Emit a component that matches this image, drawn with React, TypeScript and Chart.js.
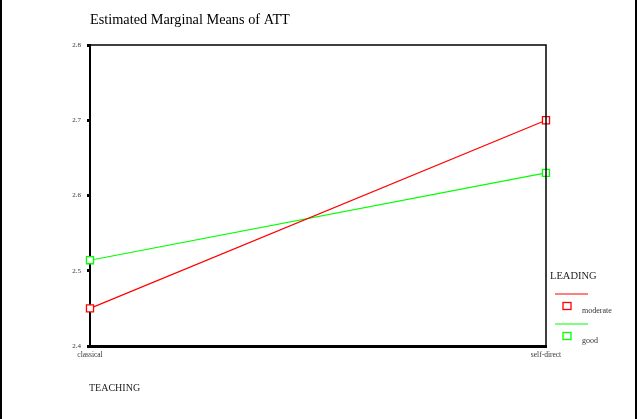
import React, { useEffect, useRef } from "react";
import { Chart, registerables } from "chart.js";

Chart.register(...registerables);

const categories = ["classical", "self-direct"];
const moderateValues = [2.45, 2.7];
const goodValues = [2.514, 2.63];
const yTicks = [2.4, 2.5, 2.6, 2.7, 2.8];
const chartTitle = "Estimated Marginal Means of ATT";
const xAxisTitle = "TEACHING";
const legendTitle = "LEADING";
const seriesNames = ["moderate", "good"];
const seriesColors = ["#ff0000", "#00ff00"];

const FONT = "'Liberation Serif', 'Times New Roman', serif";

export default function App() {
  const ref = useRef<HTMLCanvasElement | null>(null);

  useEffect(() => {
    document.body.style.margin = "0";
    const canvas = ref.current;
    if (!canvas) return;

    const decor = {
      id: "decor",
      afterDraw(chart: any) {
        const ctx = chart.ctx;
        const a = chart.chartArea;
        ctx.save();
        // frame top and right
        ctx.strokeStyle = "#000";
        ctx.lineWidth = 1.5;
        ctx.beginPath();
        ctx.moveTo(a.left, a.top);
        ctx.lineTo(a.right, a.top);
        ctx.lineTo(a.right, a.bottom);
        ctx.stroke();
        // outer page side borders
        ctx.lineWidth = 2;
        ctx.beginPath();
        ctx.moveTo(1, 0);
        ctx.lineTo(1, 419);
        ctx.moveTo(636, 0);
        ctx.lineTo(636, 419);
        ctx.stroke();
        // title
        ctx.fillStyle = "#000";
        ctx.textBaseline = "middle";
        ctx.textAlign = "left";
        ctx.font = `14.3px ${FONT}`;
        ctx.fillText(chartTitle, a.left, 20.5);
        // x axis title
        ctx.font = `10px ${FONT}`;
        ctx.fillStyle = "#222";
        ctx.fillText(xAxisTitle, a.left - 1, 388);
        // legend
        ctx.font = `10.5px ${FONT}`;
        ctx.fillText(legendTitle, a.right + 4, 276);
        seriesNames.forEach((name, i) => {
          const y0 = 294 + i * 30;
          ctx.strokeStyle = seriesColors[i];
          ctx.lineWidth = 1.2;
          ctx.beginPath();
          ctx.moveTo(555, y0);
          ctx.lineTo(588, y0);
          ctx.stroke();
          ctx.lineWidth = 1.3;
          ctx.strokeRect(563, y0 + 8.5, 8, 7);
          ctx.fillStyle = "#333";
          ctx.font = `8px ${FONT}`;
          ctx.fillText(name, 582, y0 + 17);
        });
        ctx.restore();
      },
    };

    const chart = new Chart(canvas, {
      type: "line",
      data: {
        labels: categories,
        datasets: [
          {
            label: seriesNames[0],
            data: moderateValues,
            borderColor: seriesColors[0],
            backgroundColor: "#ffffff",
            borderWidth: 1.2,
            pointStyle: "rect",
            pointRadius: 5,
            pointBorderWidth: 1.3,
            pointBorderColor: seriesColors[0],
            pointBackgroundColor: "#ffffff",
          },
          {
            label: seriesNames[1],
            data: goodValues,
            borderColor: seriesColors[1],
            backgroundColor: "#ffffff",
            borderWidth: 1.2,
            pointStyle: "rect",
            pointRadius: 5,
            pointBorderWidth: 1.3,
            pointBorderColor: seriesColors[1],
            pointBackgroundColor: "#ffffff",
          },
        ],
      },
      options: {
        animation: false,
        responsive: false,
        maintainAspectRatio: false,
        layout: { padding: { left: 0, right: 94, top: 45, bottom: 0 } },
        plugins: {
          legend: { display: false },
          title: { display: false },
          tooltip: { enabled: false },
        },
        scales: {
          x: {
            type: "category",
            offset: false,
            grid: { display: false, drawTicks: false },
            border: { display: true, color: "#000", width: 3 },
            ticks: {
              color: "#333",
              font: { family: FONT, size: 7.5 },
              padding: 5,
              maxRotation: 0,
              autoSkip: false,
            },
            afterFit(scale: any) {
              scale.height = 73;
            },
          },
          y: {
            min: 2.4,
            max: 2.8,
            afterBuildTicks(scale: any) {
              scale.ticks = yTicks.map((v) => ({ value: v }));
            },
            grid: {
              drawOnChartArea: false,
              drawTicks: true,
              tickLength: 3,
              tickWidth: 3,
              tickColor: "#000",
              offset: false,
            },
            border: { display: true, color: "#000", width: 2 },
            ticks: {
              color: "#333",
              font: { family: FONT, size: 7 },
              padding: 6,
              callback: (v: any) => Number(v).toFixed(1),
            },
            afterFit(scale: any) {
              scale.width = 90;
            },
          },
        },
      },
      plugins: [decor],
    });

    return () => chart.destroy();
  }, []);

  return (
    <div style={{ position: "fixed", left: 0, top: 0, width: 640, height: 419, background: "#fff" }}>
      <canvas ref={ref} width={640} height={419} style={{ width: 640, height: 419 }} />
    </div>
  );
}
